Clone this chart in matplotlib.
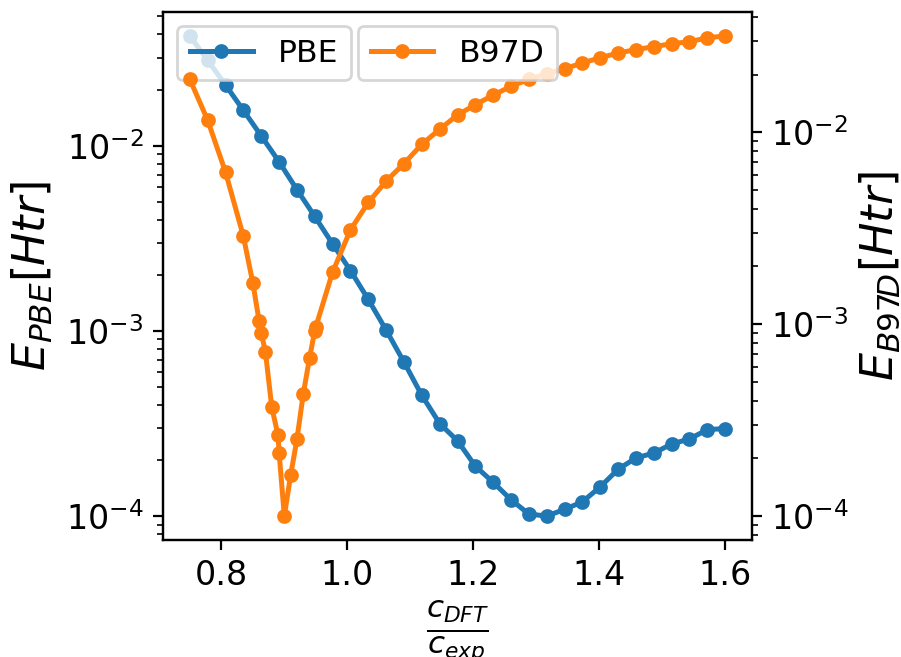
import matplotlib
matplotlib.use("Agg")
from matplotlib import pyplot as plt

# PBE: regular grid 0.75..1.6
x_pbe = [0.75, 0.7783, 0.8067, 0.835, 0.8633, 0.8917, 0.92, 0.9483, 0.9767, 1.005,
         1.0333, 1.0617, 1.09, 1.1183, 1.1467, 1.175, 1.2033, 1.2317, 1.26, 1.2883,
         1.3167, 1.345, 1.3733, 1.4017, 1.43, 1.4583, 1.4867, 1.515, 1.5433, 1.5717, 1.6]
e_pbe = [0.0392, 0.0290, 0.0213, 0.01556, 0.01132, 0.0082, 0.0058, 0.00416, 0.00295, 0.00212,
         0.00148, 0.00101, 0.000679, 0.000449, 0.000316, 0.000255, 0.000186, 0.000152, 0.0001225, 0.0001025,
         0.0001, 0.0001087, 0.0001194, 0.0001439, 0.000179, 0.000206, 0.000219, 0.000245, 0.000261, 0.000293, 0.000297]

# B97D: same grid plus extra points around the minimum
x_b97d = [0.75, 0.7783, 0.8067, 0.835, 0.85, 0.86, 0.8633, 0.87, 0.88, 0.89,
          0.8917, 0.90, 0.91, 0.92, 0.93, 0.94, 0.9483, 0.95, 0.9767, 1.005,
          1.0333, 1.0617, 1.09, 1.1183, 1.1467, 1.175, 1.2033, 1.2317, 1.26, 1.2883,
          1.3167, 1.345, 1.3733, 1.4017, 1.43, 1.4583, 1.4867, 1.515, 1.5433, 1.5717, 1.6]
e_b97d = [0.01888, 0.01155, 0.00619, 0.00287, 0.00164, 0.001037, 0.000902, 0.000718, 0.000371, 0.000263,
          0.000214, 0.0001, 0.000163, 0.000251, 0.000431, 0.000665, 0.000923, 0.000968, 0.00187, 0.0031,
          0.00431, 0.00557, 0.00687, 0.00866, 0.01037, 0.01231, 0.01393, 0.01563, 0.01737, 0.01888,
          0.02021, 0.02147, 0.02297, 0.02449, 0.02588, 0.02698, 0.02794, 0.02896, 0.02965, 0.0311, 0.03175]

plt.rcParams['font.size'] = 12

fig = plt.figure(figsize=(4.505, 3.285), dpi=200)
ax = fig.add_axes([0.181, 0.178, 0.6536, 0.8037])
ax2 = ax.twinx()

ax.plot(x_pbe, e_pbe, '-o', color='C0', lw=1.8, ms=4.3, label='PBE')
ax2.plot(x_b97d, e_b97d, '-o', color='C1', lw=1.8, ms=4.3, label='B97D')

ax.set_yscale('log')
ax2.set_yscale('log')

ax.set_xlabel(r'$\frac{c_{DFT}}{c_{exp}}$', fontsize=16, labelpad=2)
ax.set_ylabel(r'$E_{PBE}[Htr]$', fontsize=16)
ax2.set_ylabel(r'$E_{B97D}[Htr]$', fontsize=16, labelpad=3)

ax.legend(loc='upper left', fontsize=11.3, borderaxespad=0.45)
ax2.legend(loc='upper center', fontsize=11.3, borderaxespad=0.45)

fig.savefig('out.png', dpi=200)
